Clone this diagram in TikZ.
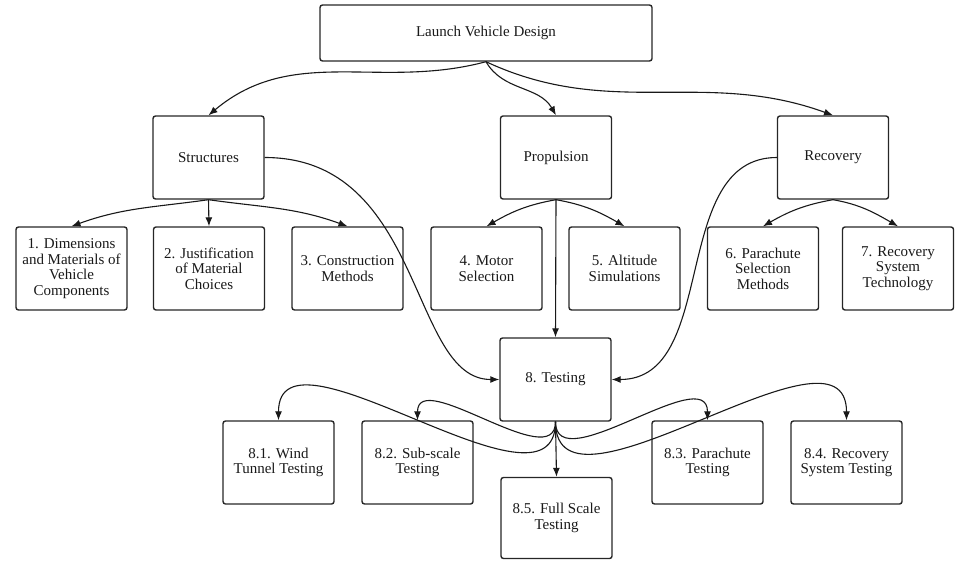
\documentclass[tikz,border=0pt]{standalone}
\usepackage{fontspec}
\setmainfont{Liberation Serif}
\usetikzlibrary{arrows.meta}

\begin{document}
\begin{tikzpicture}[x=1pt,y=1pt,
        box/.style={draw=black!85,line width=1.4pt,rounded corners=2.5pt,minimum width=111pt,minimum height=83pt,inner sep=2pt,align=center,text=black!90,font=\fontsize{15}{15.5}\selectfont},
        link/.style={-{Latex[length=9pt,width=7pt]},line width=1.1pt,draw=black!90}]

    \useasboundingbox (0,0) rectangle (955,-560);

    % Top level
    \node[box,minimum width=332pt,minimum height=56pt] (lvd) at (486,-33) {Launch Vehicle Design};

    % Subsystems
    \node[box] (str) at (208.5,-157.5) {Structures};
    \node[box] (prop) at (556,-157.5) {Propulsion};
    \node[box] (rec) at (833,-157.5) {Recovery};

    % Design tasks
    \node[box] (d1) at (71.5,-268.5) {1. Dimensions\\and Materials of\\Vehicle\\Components};
    \node[box] (d2) at (209,-268.5) {2. Justification\\of Material\\Choices};
    \node[box] (d3) at (347.5,-268.5) {3. Construction\\Methods};
    \node[box] (d4) at (486.5,-268.5) {4. Motor\\Selection};
    \node[box] (d5) at (624.5,-268.5) {5. Altitude\\Simulations};
    \node[box] (d6) at (763,-268.5) {6. Parachute\\Selection\\Methods};
    \node[box] (d7) at (898,-268.5) {7. Recovery\\System\\Technology};

    % Testing
    \node[box] (test) at (555.5,-379.5) {8. Testing};
    \node[box] (t1) at (278.5,-462.5) {8.1. Wind\\Tunnel Testing};
    \node[box] (t2) at (417.5,-462.5) {8.2. Sub-scale\\Testing};
    \node[box] (t3) at (707.5,-462.5) {8.3. Parachute\\Testing};
    \node[box] (t4) at (846.5,-462.5) {8.4. Recovery\\System Testing};
    \node[box,minimum height=81pt] (t5) at (556.5,-518) {8.5. Full Scale\\Testing};

    % Edges
    \draw[link] (lvd.south) to[out=-165,in=40] (str.north);
    \draw[link] (lvd.south) to[out=-60,in=120] (prop.north);
    \draw[link] (lvd.south) to[out=-25,in=160] (rec.north);

    \draw[link] (str.south) to[out=-172,in=20] (d1.north);
    \draw[link] (str.south) -- (d2.north);
    \draw[link] (str.south) to[out=-8,in=160] (d3.north);

    \draw[link] (prop.south) to[out=-170,in=30] (d4.north);
    \draw[link] (prop.south) -- (test.north);
    \draw[link] (prop.south) to[out=-10,in=150] (d5.north);

    \draw[link] (rec.south) to[out=-170,in=30] (d6.north);
    \draw[link] (rec.south) to[out=-10,in=150] (d7.north);

    \draw[link] (str.east) .. controls +(160,0) and +(-90,0) .. (test.west);
    \draw[link] (rec.west) to[out=180,in=0] (test.east);

    \draw[link] (test.south) to[out=-90,in=90] (t1.north);
    \draw[link] (test.south) to[out=-90,in=90] (t2.north);
    \draw[link] (test.south) to[out=-90,in=90] (t3.north);
    \draw[link] (test.south) to[out=-90,in=90] (t4.north);
    \draw[link] (test.south) -- (t5.north);

\end{tikzpicture}
\end{document}
